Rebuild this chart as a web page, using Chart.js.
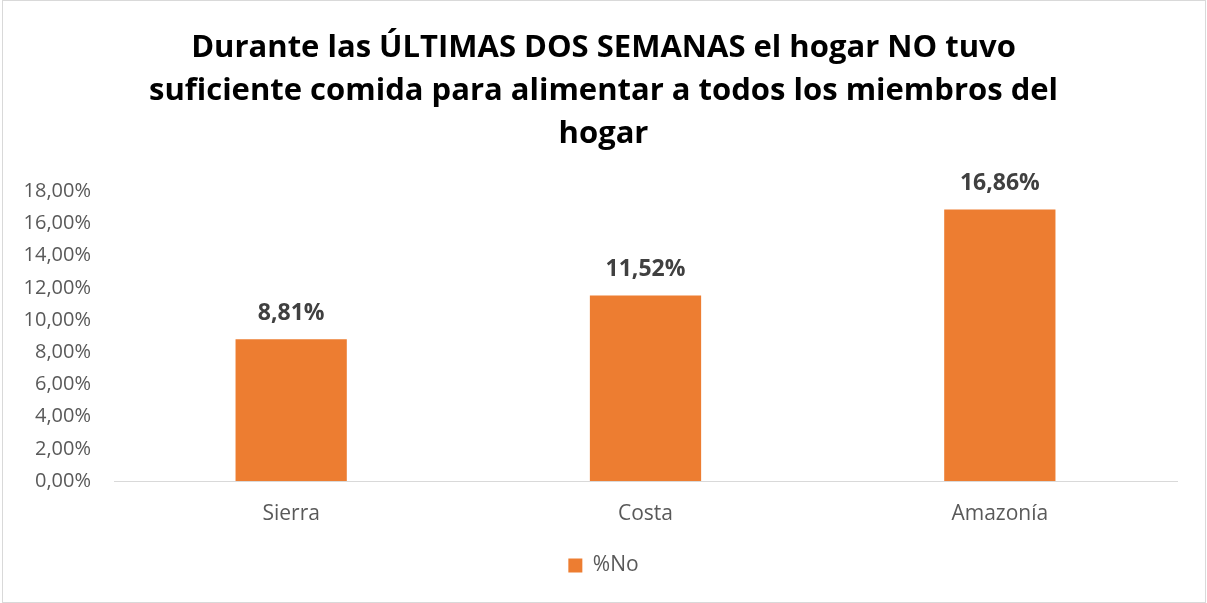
<!DOCTYPE html>
<html>
<head>
<meta charset="utf-8">
<script src="https://cdn.jsdelivr.net/npm/chart.js@4"></script>
<style>
  html, body { margin: 0; padding: 0; background: #fff; }
  #wrap { position: relative; width: 1207px; height: 603px; }
</style>
</head>
<body>
<div id="wrap"><canvas id="c" width="1207" height="603"></canvas></div>
<script>
const titleLines = ["Durante las ÚLTIMAS DOS SEMANAS el hogar NO tuvo", "suficiente comida para alimentar a todos los miembros del", "hogar"];
const categories = ["Sierra", "Costa", "Amazonía"];
const seriesName = "%No";
const valuesNo = [8.81, 11.52, 16.86];
const yTicksMax = 18;
const yTickStep = 2;

const FONT = "'Open Sans', Lato, sans-serif";
const fmt = (v, d) => v.toFixed(d).replace('.', ',') + '%';

const frame = {
  id: 'frame',
  afterDraw(chart) {
    const ctx = chart.ctx;
    ctx.save();
    ctx.strokeStyle = '#d9d9d9';
    ctx.lineWidth = 1;
    ctx.strokeRect(2.5, 0.5, 1203, 602);
    ctx.restore();
  }
};

const dataLabels = {
  id: 'dataLabels',
  afterDatasetsDraw(chart) {
    const ctx = chart.ctx;
    const meta = chart.getDatasetMeta(0);
    ctx.save();
    ctx.font = "bold 23px " + FONT;
    ctx.fillStyle = '#404040';
    ctx.textAlign = 'center';
    ctx.textBaseline = 'middle';
    meta.data.forEach((bar, i) => {
      const v = chart.data.datasets[0].data[i];
      ctx.fillText(fmt(v, 2), bar.x, bar.y - 26);
    });
    ctx.restore();
  }
};

new Chart(document.getElementById('c'), {
  type: 'bar',
  data: {
    labels: categories,
    datasets: [{
      label: seriesName,
      data: valuesNo,
      backgroundColor: '#ED7D31',
      borderWidth: 0,
      categoryPercentage: 1,
      barPercentage: 0.314
    }]
  },
  options: {
    responsive: false,
    animation: false,
    layout: { padding: { left: 0, right: 0, top: 0, bottom: 17 } },
    plugins: {
      title: {
        display: true,
        text: titleLines,
        color: '#000000',
        font: { family: FONT, size: 31, weight: 'bold', lineHeight: 1.4 },
        padding: { top: 26, bottom: 35 }
      },
      legend: {
        display: true,
        position: 'bottom',
        labels: {
          color: '#595959',
          font: { family: FONT, size: 21 },
          boxWidth: 14,
          boxHeight: 14,
          padding: 10
        }
      },
      tooltip: { enabled: false }
    },
    scales: {
      x: {
        grid: { display: false, drawTicks: false },
        border: { display: true, color: '#d9d9d9', width: 1 },
        ticks: { color: '#595959', font: { family: FONT, size: 21 }, padding: 20 },
        afterFit(scale) { scale.height = 64; }
      },
      y: {
        min: 0,
        max: yTicksMax,
        grid: { display: false, drawTicks: false },
        border: { display: false },
        ticks: {
          stepSize: yTickStep,
          color: '#595959',
          font: { family: FONT, size: 20 },
          padding: 23,
          callback: (v) => fmt(v, 2)
        },
        afterFit(scale) { scale.width = 114; }
      },
      yRightSpace: {
        position: 'right',
        min: 0,
        max: yTicksMax,
        grid: { display: false, drawTicks: false },
        border: { display: false },
        ticks: { display: false },
        afterFit(scale) { scale.width = 30; }
      }
    }
  },
  plugins: [dataLabels, frame]
});
</script>
</body>
</html>
